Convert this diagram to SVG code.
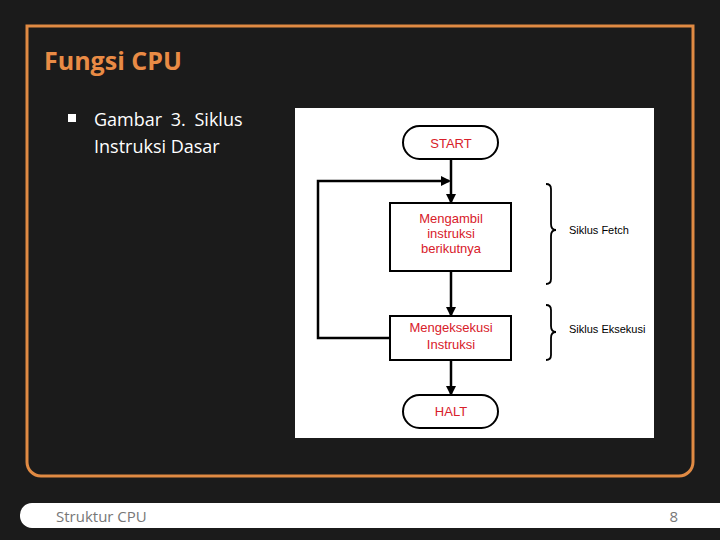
<svg xmlns="http://www.w3.org/2000/svg" width="720" height="540" viewBox="0 0 720 540">
<defs>
<style>
.n{fill:#fff;stroke:#000;stroke-width:2}
.t{font-family:"Liberation Sans",Arial,sans-serif;font-size:13px;fill:#d8202a;text-anchor:middle}
.l{font-family:"Liberation Sans",Arial,sans-serif;font-size:11px;fill:#000}
.c{fill:none;stroke:#000;stroke-width:2.5}
.b{fill:none;stroke:#000;stroke-width:1.8}
</style>
<marker id="a" markerWidth="10" markerHeight="10" refX="8" refY="5" orient="auto" markerUnits="userSpaceOnUse"><path d="M0,0L10,5L0,10z" fill="#000"/></marker>
</defs>
<rect width="720" height="540" fill="#1b1b1b"/>
<path d="M27,26H693V462a14,14 0 0 1 -14,14H41a14,14 0 0 1 -14,-14z" fill="none" stroke="#e08a43" stroke-width="3"/>
<text x="44" y="70" font-family="'Open Sans',sans-serif" font-weight="bold" font-size="25" fill="#e98b45">Fungsi CPU</text>
<rect x="68" y="114" width="8" height="8" fill="#fff"/>
<text font-family="'Open Sans',sans-serif" font-size="18" fill="#fff"><tspan x="94" y="126" word-spacing="4">Gambar 3. Siklus</tspan><tspan x="94" y="153">Instruksi Dasar</tspan></text>
<path d="M32,503H720V528H32a12,12 0 0 1 -12,-12.5a12,12 0 0 1 12,-12.5z" fill="#fff"/>
<text x="56" y="522" font-family="'Open Sans',sans-serif" font-size="15" fill="#777">Struktur CPU</text>
<text x="678" y="522" font-family="'Open Sans',sans-serif" font-size="15" fill="#777" text-anchor="end">8</text>
<rect x="295" y="108" width="359" height="330" fill="#fff"/>
<g id="connectors">
<line class="c" x1="451" y1="159" x2="451" y2="202" marker-end="url(#a)"/>
<polyline class="c" points="390,338 318,338 318,181 449,181" marker-end="url(#a)"/>
<line class="c" x1="451" y1="271" x2="451" y2="315" marker-end="url(#a)"/>
<line class="c" x1="451" y1="360" x2="451" y2="394" marker-end="url(#a)"/>
</g>
<g id="start"><rect class="n" x="403" y="126" width="95" height="33" rx="16.5"/><text class="t" x="451" y="148">START</text></g>
<g id="fetch"><rect class="n" x="390" y="203" width="121" height="68"/><text class="t" x="451" y="223">Mengambil</text><text class="t" x="451" y="238">instruksi</text><text class="t" x="451" y="253">berikutnya</text></g>
<g id="exec"><rect class="n" x="390" y="316" width="121" height="44"/><text class="t" x="451" y="332">Mengeksekusi</text><text class="t" x="451" y="349">Instruksi</text></g>
<g id="halt"><rect class="n" x="403" y="395" width="95" height="33" rx="16.5"/><text class="t" x="451" y="416">HALT</text></g>
<g id="brace-fetch"><path class="b" d="M546,184q5,0 5,5V224q0,6 5,6q-5,0 -5,6V279q0,5 -5,5"/><text class="l" x="569" y="234">Siklus Fetch</text></g>
<g id="brace-exec"><path class="b" d="M546,305q5,0 5,5V326q0,6 5,6q-5,0 -5,6V355q0,5 -5,5"/><text class="l" x="569" y="333">Siklus Eksekusi</text></g>
</svg>
